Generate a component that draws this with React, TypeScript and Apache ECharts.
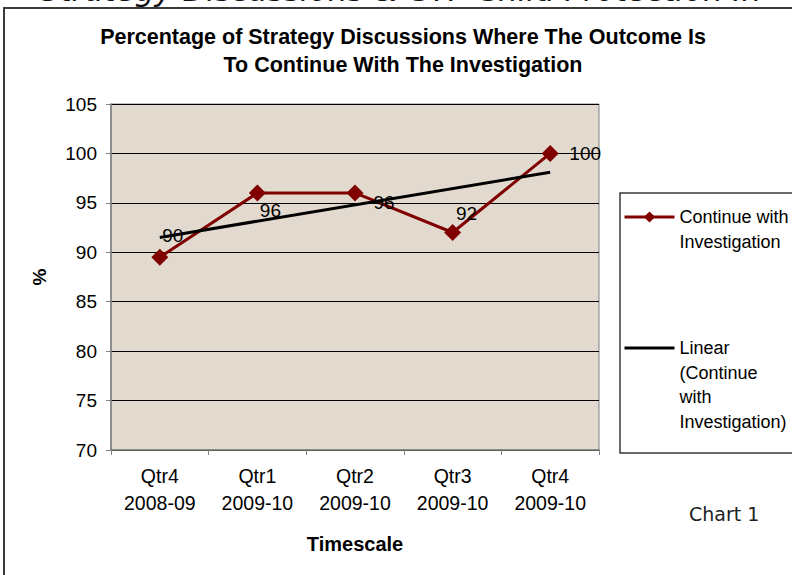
import React, { useEffect, useRef } from "react";
import * as echarts from "echarts";

const categories = ["Qtr4\n2008-09", "Qtr1\n2009-10", "Qtr2\n2009-10", "Qtr3\n2009-10", "Qtr4\n2009-10"];
const continueValues = [89.5, 96, 96, 92, 100];
const trendValues = [91.5, null, null, null, 98.1];
const yTicks = { min: 70, max: 105, interval: 5 };
const labelOffsets = [[13, -22], [13, 18], [29, 10], [14, -19], [35, 0]];
const seriesNames = ["Continue with Investigation", "Linear (Continue with Investigation)"];
const legendLines = [
  ["Continue with", "Investigation"],
  ["Linear", "(Continue", "with", "Investigation)"],
];

const FONT = "'Liberation Sans', Arial, sans-serif";

export default function App() {
  const ref = useRef<HTMLDivElement>(null);
  useEffect(() => {
    if (!ref.current) return;
    const chart = echarts.init(ref.current, null, { renderer: "svg" });
    const LH = 24.5;
    // put empty lines before the text so that its first line is centred on the legend icon
    const legendText = (lines: string[]) => new Array(lines.length - 1).fill("").concat(lines).join("\n");
    const legendTop = (iconY: number, lines: string[]) => iconY - ((2 * lines.length - 1) * LH) / 2;
    chart.setOption({
      animation: false,
      backgroundColor: "#ffffff",
      textStyle: { fontFamily: FONT },
      title: {
        text: "Percentage of Strategy Discussions Where The Outcome Is\nTo Continue With The Investigation",
        left: 403,
        top: 23,
        textAlign: "center",
        padding: 0,
        textStyle: { fontFamily: FONT, fontSize: 21.5, fontWeight: "bold", lineHeight: 28, color: "#000" },
      },
      grid: {
        left: 111,
        top: 104,
        right: 193,
        bottom: 125,
        show: true,
        backgroundColor: "#e2dacf",
        borderColor: "#808080",
        borderWidth: 1,
      },
      legend: [
        {
          data: [seriesNames[0]],
          left: 623,
          top: legendTop(217, legendLines[0]),
          orient: "vertical",
          padding: 0,
          itemWidth: 50,
          itemHeight: 14,
          selectedMode: false,
          lineStyle: { width: 3 },
          formatter: () => legendText(legendLines[0]),
          textStyle: { fontFamily: FONT, fontSize: 18, lineHeight: LH, color: "#000" },
        },
        {
          data: [seriesNames[1]],
          left: 623,
          top: legendTop(348, legendLines[1]),
          orient: "vertical",
          padding: 0,
          itemWidth: 50,
          itemHeight: 14,
          selectedMode: false,
          lineStyle: { width: 3 },
          itemStyle: { color: "rgba(0,0,0,0)", opacity: 0, borderWidth: 0 },
          formatter: () => legendText(legendLines[1]),
          textStyle: { fontFamily: FONT, fontSize: 18, lineHeight: LH, color: "#000" },
        },
      ],
      xAxis: {
        type: "category",
        data: categories,
        boundaryGap: true,
        name: "Timescale",
        nameLocation: "middle",
        nameGap: 84,
        nameTextStyle: { fontFamily: FONT, fontSize: 20, fontWeight: "bold", color: "#000" },
        axisLine: { lineStyle: { color: "#808080", width: 1.5 } },
        axisTick: { show: true, length: 5, lineStyle: { color: "#808080" } },
        axisLabel: { fontFamily: FONT, fontSize: 19.5, lineHeight: 27, margin: 12, color: "#000" },
      },
      yAxis: {
        type: "value",
        min: yTicks.min,
        max: yTicks.max,
        interval: yTicks.interval,
        name: "%",
        nameLocation: "middle",
        nameGap: 62,
        nameRotate: 90,
        nameTextStyle: { fontFamily: FONT, fontSize: 19, fontWeight: "bold", color: "#000" },
        axisLine: { show: true, lineStyle: { color: "#808080", width: 1.5 } },
        axisTick: { show: true, length: 5, lineStyle: { color: "#808080" } },
        axisLabel: { fontFamily: FONT, fontSize: 19, margin: 14, color: "#000" },
        splitLine: { show: true, lineStyle: { color: "#000", width: 1 } },
      },
      series: [
        {
          name: seriesNames[1],
          type: "line",
          data: trendValues,
          connectNulls: true,
          symbol: "none",
          lineStyle: { color: "#000", width: 3 },
          itemStyle: { color: "#000" },
          z: 3,
        },
        {
          name: seriesNames[0],
          type: "line",
          data: continueValues.map((v, i) => ({
            value: v,
            label: { offset: labelOffsets[i] },
          })),
          symbol: "diamond",
          symbolSize: 17,
          lineStyle: { color: "#800000", width: 3 },
          itemStyle: { color: "#800000" },
          label: {
            show: true,
            position: "inside",
            align: "center",
            verticalAlign: "middle",
            fontFamily: FONT,
            fontSize: 19,
            color: "#000",
            formatter: (p: any) => String(Math.round(p.value)),
          },
          z: 2,
        },
      ],
      graphic: [
        {
          type: "text",
          left: 40,
          top: -26,
          style: {
            text: "Strategy Discussions & CYP Child Protection In",
            font: "italic 31px 'DejaVu Sans', Verdana, sans-serif",
            fill: "#111",
          },
          silent: true,
        },
        {
          type: "rect",
          shape: { x: 4, y: 8, width: 900, height: 700 },
          style: { fill: "none", stroke: "#3a3a3a", lineWidth: 2 },
          silent: true,
          z: 100,
        },
        {
          type: "rect",
          shape: { x: 620, y: 193, width: 300, height: 260 },
          style: { fill: "none", stroke: "#3a3a3a", lineWidth: 1.5 },
          silent: true,
          z: 100,
        },
        {
          type: "text",
          x: 689,
          y: 514,
          style: {
            text: "Chart 1",
            font: "19px 'DejaVu Sans', Verdana, sans-serif",
            fill: "#222",
            verticalAlign: "middle",
            align: "left",
          },
          silent: true,
        },
      ],
    });
    return () => chart.dispose();
  }, []);
  return (
    <div
      ref={ref}
      style={{ position: "fixed", left: 0, top: 0, width: 792, height: 575, background: "#fff" }}
    />
  );
}
